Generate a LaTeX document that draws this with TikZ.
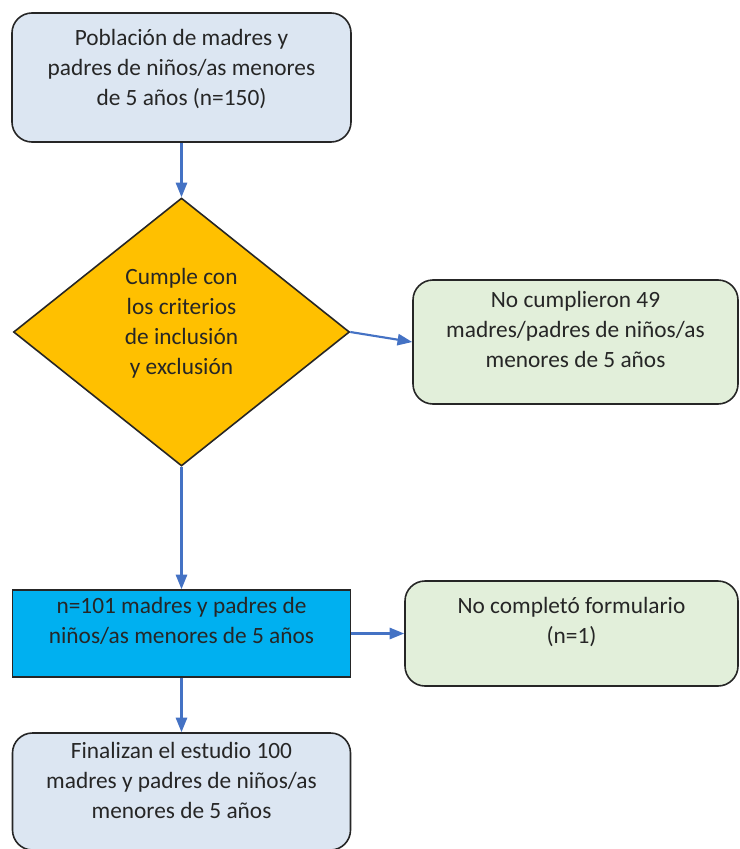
\documentclass[tikz,border=0pt]{standalone}
\usepackage{xcolor}
\usepackage{fontspec}
\setmainfont{Carlito}
\usepackage{tikz}
\usetikzlibrary{shapes.geometric,arrows.meta}

\definecolor{pobblue}{RGB}{220,230,242}
\definecolor{okgreen}{RGB}{226,239,218}
\definecolor{critorange}{RGB}{255,192,0}
\definecolor{muestracyan}{RGB}{0,176,240}
\definecolor{linkblue}{RGB}{68,114,196}

\newcommand{\padbelow}[1]{\rule[-#1]{0pt}{#1}}

\begin{document}
\begin{tikzpicture}[x=0.75pt,y=0.75pt,yscale=-1,xscale=1,
    box/.style={draw=black!85, line width=1.2pt, rounded corners=15pt, align=center, inner sep=0pt, text=black!85, font=\fontsize{17.5}{22.5}\selectfont},
    link/.style={draw=linkblue, line width=1.6pt, -{Triangle[length=11pt,width=8.5pt,fill=linkblue]}}]
    \useasboundingbox (0,0) rectangle (739,849);

    \node [box, fill=pobblue, minimum width=254.25pt, minimum height=96.75pt] (poblacion) at (181.5,77.5) {Población de madres y\\padres de niños/as menores\\de 5 años (n=150)\padbelow{15pt}};
    \node [box, diamond, rounded corners=0pt, fill=critorange, minimum width=252pt, minimum height=201pt] (criterios) at (181.5,332) {Cumple con\\los criterios\\de inclusión\\y exclusión\padbelow{16pt}};
    \node [box, fill=okgreen, minimum width=243.75pt, minimum height=93pt] (nocumplieron) at (575.5,342) {No cumplieron 49\\madres/padres de niños/as\\menores de 5 años\padbelow{19pt}};
    \node [box, rounded corners=0pt, fill=muestracyan, minimum width=253.5pt, minimum height=65.25pt] (muestra) at (181.5,633.5) {n=101 madres y padres de\\niños/as menores de 5 años\padbelow{19pt}};
    \node [box, fill=okgreen, minimum width=249.75pt, minimum height=78.75pt] (nocompleto) at (571.5,633.5) {No completó formulario\\(n=1)\padbelow{19pt}};
    \node [box, fill=pobblue, minimum width=253.5pt, minimum height=87.75pt] (finalizan) at (181.5,791.5) {Finalizan el estudio 100\\madres y padres de niños/as\\menores de 5 años\padbelow{17pt}};

    \draw [link] (poblacion.south) -- (criterios.north);
    \draw [link] (criterios.east) -- (nocumplieron.west);
    \draw [link] (criterios.south) -- (muestra.north);
    \draw [link] (muestra.east) -- (nocompleto.west);
    \draw [link] (muestra.south) -- (finalizan.north);
\end{tikzpicture}
\end{document}
